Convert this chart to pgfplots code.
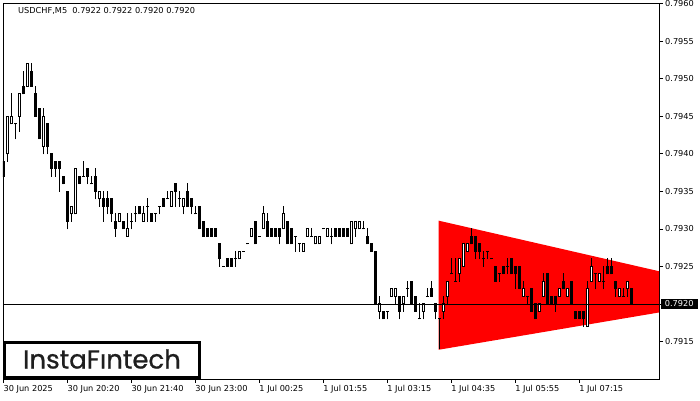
\documentclass[border=0pt]{standalone}
\usepackage{fontspec}
\setmainfont{DejaVu Sans}
\newfontfamily\logofont[FakeBold=0.8]{Poppins}
\usepackage{pgfplots}
\usepackage{pgfplotstable}
\pgfplotsset{compat=1.18}

\pgfplotstableread{
i o h l c
0 0.7939 0.7939 0.7937 0.7937
1 0.7940 0.7945 0.7939 0.7945
2 0.7944 0.7948 0.7944 0.7945
3 0.7944 0.7944 0.7942 0.7944
4 0.7945 0.7948 0.7943 0.7948
5 0.7949 0.7951 0.7948 0.7948
6 0.7949 0.7952 0.7949 0.7952
7 0.7951 0.7952 0.7949 0.7949
8 0.7948 0.7949 0.7945 0.7945
9 0.7946 0.7946 0.7942 0.7942
10 0.7941 0.7946 0.7940 0.7945
11 0.7944 0.7944 0.7940 0.7941
12 0.7940 0.7940 0.7937 0.7938
13 0.7939 0.7939 0.7937 0.7938
14 0.7939 0.7939 0.7935 0.7938
15 0.7937 0.7937 0.7936 0.7936
16 0.7935 0.7935 0.7930 0.7931
17 0.7932 0.7933 0.7931 0.7933
18 0.7932 0.7938 0.7932 0.7938
19 0.7937 0.7937 0.7936 0.7936
20 0.7937 0.7939 0.7937 0.7937
21 0.7938 0.7938 0.7936 0.7937
22 0.7936 0.7937 0.7936 0.7936
23 0.7937 0.7938 0.7934 0.7935
24 0.7934 0.7935 0.7933 0.7935
25 0.7934 0.7935 0.7931 0.7933
26 0.7934 0.7935 0.7932 0.7933
27 0.7934 0.7934 0.7931 0.7932
28 0.7931 0.7932 0.7929 0.7930
29 0.7931 0.7932 0.7931 0.7932
30 0.7931 0.7931 0.7930 0.7930
31 0.7929 0.7932 0.7929 0.7930
32 0.7931 0.7932 0.7930 0.7931
33 0.7932 0.7933 0.7931 0.7932
34 0.7933 0.7933 0.7932 0.7932
35 0.7931 0.7933 0.7931 0.7932
36 0.7933 0.7934 0.7931 0.7933
37 0.7932 0.7932 0.7931 0.7931
38 0.7932 0.7932 0.7931 0.7932
39 0.7933 0.7933 0.7932 0.7933
40 0.7934 0.7934 0.7933 0.7933
41 0.7934 0.7935 0.7934 0.7934
42 0.7933 0.7935 0.7933 0.7935
43 0.7936 0.7936 0.7933 0.7935
44 0.7934 0.7935 0.7933 0.7934
45 0.7933 0.7934 0.7932 0.7934
46 0.7935 0.7936 0.7933 0.7933
47 0.7934 0.7934 0.7932 0.7933
48 0.7932 0.7933 0.7932 0.7932
49 0.7933 0.7933 0.7930 0.7930
50 0.7931 0.7931 0.7929 0.7929
51 0.7930 0.7930 0.7929 0.7929
52 0.7930 0.7930 0.7929 0.7929
53 0.7930 0.7930 0.7929 0.7929
54 0.7928 0.7928 0.7925 0.7926
55 0.7925 0.7925 0.7925 0.7925
56 0.7926 0.7926 0.7925 0.7925
57 0.7926 0.7926 0.7925 0.7925
58 0.7926 0.7927 0.7925 0.7926
59 0.7926 0.7927 0.7926 0.7927
60 0.7927 0.7927 0.7927 0.7927
61 0.7928 0.7928 0.7928 0.7928
62 0.7929 0.7930 0.7929 0.7930
63 0.7931 0.7931 0.7928 0.7928
64 0.7929 0.7929 0.7929 0.7929
65 0.7930 0.7933 0.7930 0.7932
66 0.7931 0.7932 0.7929 0.7929
67 0.7930 0.7930 0.7929 0.7929
68 0.7930 0.7930 0.7929 0.7929
69 0.7930 0.7930 0.7928 0.7929
70 0.7930 0.7933 0.7930 0.7932
71 0.7931 0.7931 0.7928 0.7928
72 0.7930 0.7930 0.7928 0.7928
73 0.7929 0.7929 0.7927 0.7929
74 0.7928 0.7928 0.7927 0.7928
75 0.7927 0.7928 0.7927 0.7928
76 0.7929 0.7930 0.7929 0.7930
77 0.7929 0.7930 0.7929 0.7929
78 0.7928 0.7929 0.7928 0.7929
79 0.7928 0.7929 0.7928 0.7929
80 0.7930 0.7930 0.7930 0.7930
81 0.7929 0.7930 0.7929 0.7930
82 0.7929 0.7930 0.7928 0.7929
83 0.7930 0.7930 0.7929 0.7929
84 0.7930 0.7930 0.7929 0.7929
85 0.7930 0.7930 0.7929 0.7929
86 0.7930 0.7930 0.7929 0.7929
87 0.7928 0.7931 0.7928 0.7931
88 0.7930 0.7931 0.7929 0.7931
89 0.7930 0.7931 0.7930 0.7931
90 0.7930 0.7931 0.7930 0.7930
91 0.7929 0.7930 0.7928 0.7928
92 0.7928 0.7928 0.7927 0.7927
93 0.7927 0.7927 0.7920 0.7920
94 0.7919 0.7921 0.7918 0.7920
95 0.7919 0.7919 0.7918 0.7918
96 0.7919 0.7919 0.7918 0.7919
97 0.7921 0.7922 0.7921 0.7922
98 0.7921 0.7922 0.7920 0.7922
99 0.7921 0.7921 0.7918 0.7919
100 0.7920 0.7921 0.7919 0.7921
101 0.7922 0.7923 0.7921 0.7922
102 0.7923 0.7923 0.7920 0.7920
103 0.7921 0.7921 0.7919 0.7919
104 0.7918 0.7920 0.7918 0.7918
105 0.7919 0.7920 0.7918 0.7920
106 0.7921 0.7922 0.7921 0.7921
107 0.7922 0.7923 0.7921 0.7921
108 0.7920 0.7920 0.7918 0.7919
109 0.7918 0.7918 0.7914 0.7918
110 0.7919 0.7921 0.7918 0.7920
111 0.7921 0.7923 0.7920 0.7923
112 0.7924 0.7926 0.7924 0.7924
113 0.7923 0.7926 0.7923 0.7923
114 0.7924 0.7926 0.7923 0.7926
115 0.7925 0.7928 0.7925 0.7928
116 0.7927 0.7928 0.7927 0.7928
117 0.7929 0.7930 0.7928 0.7928
118 0.7929 0.7929 0.7926 0.7927
119 0.7928 0.7928 0.7926 0.7927
120 0.7926 0.7927 0.7925 0.7926
121 0.7927 0.7927 0.7926 0.7927
122 0.7926 0.7926 0.7926 0.7926
123 0.7925 0.7925 0.7923 0.7923
124 0.7924 0.7924 0.7923 0.7924
125 0.7925 0.7925 0.7924 0.7924
126 0.7925 0.7926 0.7924 0.7925
127 0.7926 0.7926 0.7924 0.7924
128 0.7925 0.7925 0.7922 0.7924
129 0.7925 0.7925 0.7922 0.7922
130 0.7921 0.7923 0.7921 0.7922
131 0.7921 0.7921 0.7920 0.7921
132 0.7922 0.7922 0.7919 0.7919
133 0.7920 0.7920 0.7918 0.7918
134 0.7919 0.7920 0.7919 0.7920
135 0.7921 0.7924 0.7921 0.7923
136 0.7924 0.7924 0.7920 0.7920
137 0.7921 0.7921 0.7920 0.7920
138 0.7921 0.7921 0.7919 0.7920
139 0.7921 0.7922 0.7921 0.7922
140 0.7923 0.7924 0.7922 0.7922
141 0.7921 0.7922 0.7921 0.7922
142 0.7923 0.7923 0.7920 0.7920
143 0.7919 0.7919 0.7918 0.7918
144 0.7919 0.7919 0.7918 0.7918
145 0.7919 0.7919 0.7917 0.7918
146 0.7917 0.7923 0.7917 0.7922
147 0.7923 0.7926 0.7923 0.7925
148 0.7924 0.7924 0.7922 0.7924
149 0.7923 0.7924 0.7923 0.7924
150 0.7923 0.7925 0.7922 0.7923
151 0.7925 0.7926 0.7924 0.7924
152 0.7925 0.7926 0.7924 0.7924
153 0.7923 0.7923 0.7921 0.7922
154 0.7921 0.7922 0.7921 0.7922
155 0.7921 0.7922 0.7921 0.7921
156 0.7922 0.7923 0.7921 0.7923
157 0.7922 0.7922 0.7920 0.7920
}\candles

\begin{document}
\begin{tikzpicture}
\path[use as bounding box] (-3pt,-21pt) rectangle (697pt,379pt);
\begin{axis}[
  name=ax, at={(0,0)}, anchor=south west,
  scale only axis, width=656pt, height=376pt,
  xmin=-0.1, xmax=164, ymin=0.7910, ymax=0.796011,
  clip mode=individual,
  axis line style={black, line width=0.8pt},
  tick style={black, line width=0.8pt},
  tick align=outside, major tick length=4pt,
  xtick pos=bottom, ytick pos=right, yticklabel pos=right,
  xtick={0,16,32,48,64,80,96,112,128,144},
  xticklabels={30 Jun 2025,30 Jun 20:20,30 Jun 21:40,30 Jun 23:00,1 Jul 00:25,1 Jul 01:55,1 Jul 03:15,1 Jul 04:35,1 Jul 05:55,1 Jul 07:15},
  ytick={0.7915,0.7920,0.7925,0.7930,0.7935,0.7940,0.7945,0.7950,0.7955,0.7960},
  yticklabels={0.7915,{},0.7925,0.7930,0.7935,0.7940,0.7945,0.7950,0.7955,0.7960},
  xticklabel style={anchor=north west, inner sep=0pt, yshift=-2pt},
  yticklabel style={anchor=west, inner sep=0pt, xshift=2pt},
  font=\fontsize{8.2}{10}\selectfont,
]
% symmetrical triangle
\addplot[fill=red, draw=none, forget plot] coordinates {(108.9,0.79311) (189.9,0.79212) (108.9,0.79139)} -- cycle;
% wicks
\addplot[draw=none, mark=none, forget plot,
  error bars/.cd, y dir=plus, y explicit, error mark=none,
  error bar style={draw=black, line width=1pt}]
  table[x=i, y expr=\thisrow{l}-0.0000067, y error plus expr=\thisrow{h}-\thisrow{l}+0.0000133] {\candles};
% bodies (black outline / fill)
\addplot[draw=none, mark=none, forget plot,
  error bars/.cd, y dir=plus, y explicit, error mark=none,
  error bar style={draw=black, line width=3pt}]
  table[x=i, y expr={min(\thisrow{o},\thisrow{c})-0.0000067}, y error plus expr={abs(\thisrow{c}-\thisrow{o})+0.0000133}] {\candles};
% white interiors of bullish candles
\addplot[draw=none, mark=none, forget plot,
  restrict expr to domain={\thisrow{c}-\thisrow{o}}{0.00005:1},
  error bars/.cd, y dir=plus, y explicit, error mark=none,
  error bar style={draw=white, line width=1pt}]
  table[x=i, y expr=\thisrow{o}+0.0000067, y error plus expr=\thisrow{c}-\thisrow{o}-0.0000133] {\candles};
% current price line
\addplot[black, line width=0.8pt, forget plot] coordinates {(-0.1,0.7920) (164,0.7920)};
\node[fill=black, text=white, anchor=west, inner xsep=4pt, inner ysep=2pt, font=\fontsize{8.2}{10}\selectfont] at ([xshift=1.7pt]axis cs:164,0.7920) {0.7920};
\end{axis}
\node[anchor=base west, inner sep=0pt, font=\fontsize{8.2}{10}\selectfont] at ([xshift=15pt,yshift=-11pt]ax.north west) {USDCHF,M5\ \ 0.7922 0.7922 0.7920 0.7920};
\draw[line width=3pt, fill=white] ([xshift=1.5pt,yshift=1.5pt]ax.south west) rectangle ([xshift=196.5pt,yshift=37pt]ax.south west);
\node[font=\logofont\fontsize{26}{30}\selectfont, text=black!88] at ([xshift=99pt,yshift=20pt]ax.south west) {InstaFıntech};
\end{tikzpicture}
\end{document}
